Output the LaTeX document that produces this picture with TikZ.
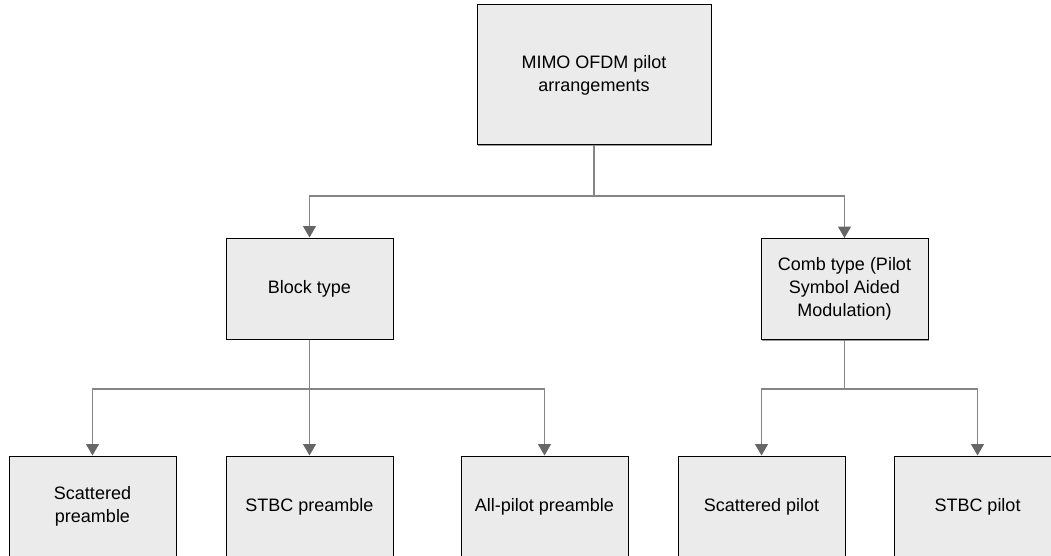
\documentclass[tikz,border=0pt]{standalone}
\usepackage{fontspec}
\setmainfont{Liberation Sans}
\usetikzlibrary{arrows.meta,shadows}
\definecolor{boxfill}{HTML}{EBEBEB}
\definecolor{linkgray}{HTML}{858585}
\definecolor{tipgray}{HTML}{666666}
\tikzset{
  box/.style={rectangle, draw=black, line width=1pt, fill=boxfill,
    minimum width=167pt, minimum height=101pt, align=center,
    font=\fontsize{18}{23}\selectfont, inner sep=2pt,
    drop shadow={shadow xshift=1.2pt, shadow yshift=-1.2pt, fill=gray!80, opacity=1}},
  link/.style={draw=linkgray, line width=1.3pt},
  arrowlink/.style={link, -{Triangle[width=13pt,length=11.5pt,fill=tipgray,color=tipgray]}}
}
\begin{document}
\begin{tikzpicture}[x=1pt,y=-1pt]
\useasboundingbox (0,0) rectangle (1051,556);

% root
\node[box, minimum width=234pt, minimum height=140pt] (root) at (594,75) {MIMO OFDM pilot\\arrangements};

% second level
\node[box] (block) at (309.5,288.5) {Block type};
\node[box] (comb) at (844.5,289) {Comb type (Pilot\\Symbol Aided\\Modulation)};

% leaves
\node[box] (sp) at (92.5,506.5) {Scattered\\preamble};
\node[box] (stbcpre) at (309.5,506.5) {STBC preamble};
\node[box] (allp) at (544.5,506.5) {All-pilot preamble};
\node[box] (scp) at (761.5,506.5) {Scattered pilot};
\node[box] (stbcp) at (977.5,506.5) {STBC pilot};

% branch points
\coordinate (j0) at (594,196);
\coordinate (j1) at (309.5,389);
\coordinate (j2) at (844.5,389);

\draw[link] (root.south) -- (j0);
\draw[arrowlink] (j0) -| (block.north);
\draw[arrowlink] (j0) -| (comb.north);

\draw[link] (block.south) -- (j1);
\draw[arrowlink] (j1) -| (sp.north);
\draw[arrowlink] (j1) -- (stbcpre.north);
\draw[arrowlink] (j1) -| (allp.north);

\draw[link] (comb.south) -- (j2);
\draw[arrowlink] (j2) -| (scp.north);
\draw[arrowlink] (j2) -| (stbcp.north);
\end{tikzpicture}
\end{document}
